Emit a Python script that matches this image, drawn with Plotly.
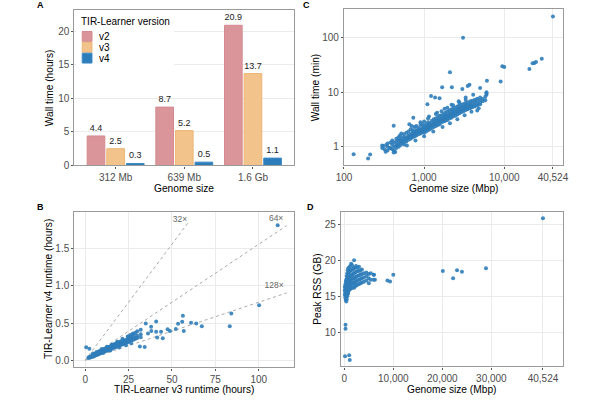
import plotly.graph_objects as go

# ---------------- Panel A data ----------------
genome_cats = ["312 Mb", "639 Mb", "1.6 Gb"]
versions = ["v2", "v3", "v4"]
wall_v2 = [4.4, 8.7, 20.9]
wall_v3 = [2.5, 5.2, 13.7]
wall_v4 = [0.3, 0.5, 1.1]
bar_colors = ["#D9959A", "#F2C38A", "#2D7DBB"]
bar_lines = ["#D48A90", "#EDB675", "#3C8AC6"]

# ---------------- Panel B data (hours) ----------------
v3_hours = [
    2, 2, 3, 3, 3, 4, 4, 4, 5, 5, 5, 5, 6, 6, 6, 6, 7, 7, 7, 7,
    8, 8, 8, 8, 8, 9, 9, 9, 9, 9, 10, 10, 10, 10, 10, 11, 11, 11, 11, 11,
    12, 12, 12, 12, 12, 13, 13, 13, 13, 13, 14, 14, 14, 14, 14, 15, 15, 15, 15, 15,
    16, 16, 16, 16, 16, 17, 17, 17, 17, 17, 18, 18, 18, 18, 18, 19, 19, 19, 19, 19,
    20, 20, 20, 20, 20, 21, 21, 21, 21, 21, 22, 22, 22, 22, 22, 23, 23, 23, 23,
    24, 24, 24, 24, 25, 25, 25, 25, 26, 26, 26, 26, 27, 27, 27, 28, 28, 28,
    29, 29, 29, 30, 30, 30, 32, 32, 32,
    4.5, 6.5, 9.5, 12.5, 15.5, 18.5, 21.5, 24.5, 27.5, 10.5, 14.5, 19.5, 23.5, 26.5,
    0.6, 2.4, 31.5, 34.3, 34.9, 36.2, 38.0, 38.1, 40.9, 40.9, 41.5, 43.7, 44.7,
    47.5, 48.8, 52.2, 53.5, 55.9, 56.3, 56.8, 61.0, 64.0, 67.2, 83.3, 84.2, 100.2, 110.9,
]
v4_hours = [
    0.03, 0.04, 0.04, 0.05, 0.035, 0.05, 0.06, 0.045, 0.06, 0.07, 0.05, 0.08, 0.07, 0.08, 0.065, 0.09, 0.08, 0.09, 0.075, 0.10,
    0.09, 0.10, 0.085, 0.11, 0.12, 0.10, 0.11, 0.095, 0.12, 0.13, 0.11, 0.12, 0.105, 0.13, 0.14, 0.12, 0.13, 0.115, 0.14, 0.155,
    0.13, 0.14, 0.125, 0.15, 0.16, 0.14, 0.15, 0.13, 0.16, 0.17, 0.15, 0.16, 0.14, 0.17, 0.18, 0.16, 0.17, 0.15, 0.18, 0.20,
    0.17, 0.18, 0.16, 0.19, 0.21, 0.18, 0.19, 0.17, 0.20, 0.22, 0.19, 0.20, 0.18, 0.21, 0.23, 0.20, 0.21, 0.19, 0.22, 0.24,
    0.21, 0.22, 0.20, 0.23, 0.25, 0.22, 0.23, 0.21, 0.24, 0.26, 0.23, 0.24, 0.22, 0.25, 0.27, 0.24, 0.25, 0.23, 0.27,
    0.25, 0.26, 0.24, 0.28, 0.26, 0.29, 0.25, 0.32, 0.28, 0.31, 0.27, 0.34, 0.29, 0.33, 0.27, 0.30, 0.35, 0.28,
    0.31, 0.37, 0.29, 0.33, 0.39, 0.30, 0.35, 0.41, 0.31,
    0.09, 0.11, 0.15, 0.18, 0.21, 0.25, 0.29, 0.32, 0.36, 0.10, 0.13, 0.17, 0.20, 0.23,
    0.173, 0.155, 0.186, 0.177, 0.496, 0.36, 0.45, 0.394, 0.52, 0.385, 0.305, 0.385, 0.296,
    0.416, 0.394, 0.42, 0.49, 0.518, 0.60, 0.394, 0.504, 0.496, 0.456, 0.456, 0.63, 0.74, 1.82,
]
fold_ratios = [32, 64, 128]
fold_x_end = [60, 116, 116]
fold_labels = ["32×", "64×", "128×"]
fold_label_x = [54.6, 110.0, 108.9]
fold_label_y = [1.89, 1.91, 1.00]

# ---------------- Panel C data (Mbp, minutes) ----------------
c_size = [
    300, 300, 320, 350, 350, 350, 380, 380, 400, 400, 400, 420, 420, 420,
    450, 450, 450, 450, 480, 480, 480, 480, 500, 500, 500, 500, 530, 530, 530, 530,
    560, 560, 560, 560, 560, 600, 600, 600, 600, 600, 640, 640, 640, 640, 640,
    680, 680, 680, 680, 680, 720, 720, 720, 720, 720, 760, 760, 760, 760, 760,
    800, 800, 800, 800, 800, 850, 850, 850, 850, 850, 900, 900, 900, 900, 900,
    950, 950, 950, 950, 950, 1000, 1000, 1000, 1000, 1000, 1000,
    1060, 1060, 1060, 1060, 1060, 1120, 1120, 1120, 1120, 1120, 1120,
    1180, 1180, 1180, 1180, 1180, 1250, 1250, 1250, 1250, 1250,
    1320, 1320, 1320, 1320, 1320, 1400, 1400, 1400, 1400, 1400, 1400,
    1480, 1480, 1480, 1480, 1480, 1560, 1560, 1560, 1560, 1560,
    1650, 1650, 1650, 1650, 1650, 1650, 1750, 1750, 1750, 1750, 1750,
    1850, 1850, 1850, 1850, 1850, 1950, 1950, 1950, 1950, 1950, 1950,
    2060, 2060, 2060, 2060, 2060, 2180, 2180, 2180, 2180, 2180,
    2300, 2300, 2300, 2300, 2300, 2300, 2450, 2450, 2450, 2450, 2450,
    2600, 2600, 2600, 2600, 2600, 2750, 2750, 2750, 2750, 2750, 2750,
    2900, 2900, 2900, 2900, 2900, 3100, 3100, 3100, 3100, 3100,
    3300, 3300, 3300, 3300, 3300, 3300, 3500, 3500, 3500, 3500, 3500,
    3750, 3750, 3750, 3750, 3750, 4000, 4000, 4000, 4000, 4300, 4300, 4300, 4300,
    4600, 4600, 4600, 4600, 4600, 5000, 5000, 5000, 5000, 5400, 5400, 5800, 5800,
    520, 700, 900, 1150, 1450, 1800, 2200, 2700, 3300, 4100,
    610, 780, 1000, 1300, 1700, 2100, 2600, 3200, 3900, 4800,
    132, 200, 212, 309, 336, 331, 373, 417, 436, 458, 417, 655, 733, 1100,
    1220, 1370, 1560, 1680, 2220, 3000, 3500, 3680, 5000, 6000, 6080, 6000, 6000,
    2100, 3060, 9020, 9460, 10000, 20600, 22600, 23800, 24900, 29400, 40524,
]
c_minutes = [
    0.95, 1.05, 0.90, 1.00, 1.15, 0.85, 0.95, 1.20, 1.10, 0.90, 1.30, 1.00, 1.20, 0.85,
    1.05, 1.25, 1.40, 0.95, 1.10, 1.30, 1.00, 1.50, 1.20, 1.05, 1.35, 1.60, 1.15, 1.30, 1.45, 1.25,
    1.30, 1.20, 1.50, 1.70, 1.10, 1.35, 1.50, 1.25, 1.80, 1.40, 1.45, 1.60, 1.35, 1.90, 1.50,
    1.50, 1.70, 1.40, 2.10, 1.60, 1.60, 1.80, 1.50, 2.00, 1.70, 1.70, 1.90, 1.55, 2.30, 1.80,
    1.75, 1.60, 2.00, 1.90, 2.40, 1.80, 2.00, 1.70, 2.20, 1.90, 1.90, 2.10, 1.75, 2.50, 2.00,
    2.00, 1.85, 2.20, 2.60, 1.95, 2.00, 2.20, 1.80, 2.40, 2.90, 2.10,
    2.10, 2.30, 1.90, 2.60, 2.20, 2.20, 2.40, 2.00, 2.80, 2.30, 3.30,
    2.30, 2.50, 2.10, 2.70, 2.40, 2.40, 2.60, 2.20, 3.00, 2.50,
    2.50, 2.80, 2.30, 3.20, 2.60, 2.60, 2.90, 2.40, 3.30, 2.70, 4.00,
    2.70, 3.00, 2.50, 3.50, 2.90, 2.90, 3.20, 2.60, 3.70, 3.00,
    3.00, 3.30, 2.80, 3.80, 3.10, 4.50, 3.10, 3.50, 2.90, 4.00, 3.30,
    3.30, 3.70, 3.00, 4.20, 3.50, 3.40, 3.80, 3.10, 4.40, 3.60, 5.20,
    3.60, 4.00, 3.30, 4.60, 3.80, 3.70, 4.20, 3.40, 4.80, 4.00,
    3.90, 4.40, 3.60, 5.00, 4.10, 5.80, 4.10, 4.60, 3.70, 5.20, 4.30,
    4.30, 4.80, 3.90, 5.50, 4.50, 4.50, 5.00, 4.10, 5.70, 4.70, 6.50,
    4.60, 5.20, 4.30, 5.90, 4.90, 4.80, 5.40, 4.50, 6.10, 5.10,
    5.00, 5.60, 4.70, 6.30, 5.30, 7.20, 5.20, 5.80, 4.90, 6.50, 5.50,
    5.40, 6.00, 5.10, 6.80, 5.70, 5.60, 6.30, 5.30, 7.00, 5.90, 6.60, 5.50, 7.30,
    6.10, 6.90, 5.80, 7.60, 4.60, 6.40, 7.20, 6.00, 8.00, 6.80, 7.50, 7.10, 8.30,
    1.75, 2.40, 2.80, 3.60, 4.20, 5.00, 5.90, 6.80, 8.00, 9.00,
    1.05, 1.30, 1.55, 1.90, 2.30, 2.70, 3.20, 3.80, 4.40, 5.10,
    0.73, 0.61, 0.72, 1.03, 1.08, 0.81, 0.95, 0.78, 0.80, 1.10, 2.43, 2.60, 3.40, 6.00,
    8.50, 8.00, 7.80, 12.3, 12.3, 11.5, 13.0, 13.7, 12.0, 10.0, 16.2, 9.5, 9.0,
    23.3, 100.0, 15.8, 30.0, 29.0, 26.8, 33.9, 34.3, 35.8, 41.1, 245.0,
]

# ---------------- Panel D data (Mbp, GB) ----------------
d_size = [
    100, 100, 100, 200, 200, 200, 200, 300, 300, 300, 300, 300,
    400, 400, 400, 400, 400, 400, 500, 500, 500, 500, 500, 500,
    600, 600, 600, 600, 600, 600, 700, 700, 700, 700, 700, 700,
    800, 800, 800, 800, 800, 800, 900, 900, 900, 900, 900,
    1000, 1000, 1000, 1000, 1000, 1000, 1200, 1200, 1200, 1200, 1200, 1200,
    1400, 1400, 1400, 1400, 1400, 1400, 1600, 1600, 1600, 1600, 1600, 1600,
    1800, 1800, 1800, 1800, 1800, 2000, 2000, 2000, 2000, 2000, 2000,
    2200, 2200, 2200, 2200, 2200, 2400, 2400, 2400, 2400, 2400,
    2700, 2700, 2700, 2700, 2700, 3000, 3000, 3000, 3000, 3000,
    3300, 3300, 3300, 3300, 3600, 3600, 3600, 3600, 4000, 4000, 4000,
    4500, 4500, 4500, 5000, 5000, 5000, 5400, 5400, 6000, 6000,
    150, 1000, 1120, 260, 260, 6250, 6050, 8800, 9340, 10000,
    20100, 22200, 23000, 24000, 28900, 40524,
]
d_rss = [
    15.2, 15.8, 16.3, 14.8, 15.5, 16.0, 16.6, 14.5, 15.2, 15.8, 16.4, 17.0,
    14.3, 15.0, 15.6, 16.2, 16.8, 17.3, 14.6, 15.4, 16.0, 16.6, 17.2, 17.8,
    15.0, 15.7, 16.3, 16.9, 17.5, 18.2, 15.3, 16.0, 16.6, 17.2, 17.8, 18.6,
    15.5, 16.2, 16.8, 17.4, 18.0, 18.9, 15.8, 16.4, 17.0, 17.6, 18.3,
    15.9, 16.5, 17.1, 17.7, 18.4, 19.0, 16.0, 16.6, 17.2, 17.8, 18.5, 19.2,
    16.1, 16.7, 17.3, 17.9, 18.6, 19.5, 16.2, 16.8, 17.4, 18.0, 18.7, 19.3,
    16.3, 16.9, 17.5, 18.1, 18.8, 16.2, 16.8, 17.5, 18.2, 18.9, 20.0,
    16.4, 17.0, 17.6, 18.3, 19.0, 16.5, 17.1, 17.7, 18.4, 19.2,
    16.6, 17.2, 17.8, 18.5, 19.0, 16.7, 17.3, 17.9, 18.5, 19.1,
    16.8, 17.4, 18.0, 18.6, 16.9, 17.5, 18.1, 18.7, 17.0, 17.6, 18.2,
    17.2, 17.8, 18.3, 16.8, 17.5, 18.1, 17.3, 18.2, 18.0, 17.3,
    6.7, 6.86, 6.2, 11.05, 10.5, 17.3, 18.0, 17.2, 17.05, 18.0,
    18.5, 17.5, 18.6, 18.4, 18.9, 25.8,
]

# ---------------- styling ----------------
FONT = "Liberation Sans, Arial, sans-serif"
TICK_FONT = dict(family=FONT, size=10, color="#4D4D4D")
TITLE_FONT = dict(family=FONT, size=10.2, color="#000000")
GRID = "#EBEBEB"
FRAME = "#9A9A9A"
PT_COLOR = "#2F7DBA"

W, H = 600, 400


def px_x(v):
    return v / W


def px_y(v):
    return 1 - v / H


def axis_common(**kw):
    d = dict(
        showline=True, mirror=True, linecolor=FRAME, linewidth=1.3,
        ticks="outside", ticklen=2, tickwidth=1, tickcolor="#555555",
        tickfont=TICK_FONT, gridcolor=GRID, gridwidth=1, zeroline=False,
        showgrid=True,
    )
    d.update(kw)
    return d


fig = go.Figure()

# Panel A bars
for name, vals, col, lc in zip(versions, [wall_v2, wall_v3, wall_v4], bar_colors, bar_lines):
    fig.add_trace(go.Bar(
        x=genome_cats, y=vals, name=name, xaxis="x", yaxis="y",
        marker=dict(color=col, line=dict(color=lc, width=1)),
        text=[f"{v:.1f}" for v in vals], textposition="outside",
        textfont=dict(family=FONT, size=9, color="#222222"),
        cliponaxis=False, showlegend=False,
    ))

# Panel B fold lines
for r, xe in zip(fold_ratios, fold_x_end):
    fig.add_trace(go.Scatter(
        x=[0, xe], y=[0, xe / r], mode="lines", xaxis="x2", yaxis="y2",
        line=dict(color="#A8A8A8", width=1, dash="dot"), showlegend=False,
        hoverinfo="skip",
    ))
fig.add_trace(go.Scatter(
    x=v3_hours, y=v4_hours, mode="markers", xaxis="x2", yaxis="y2",
    marker=dict(color=PT_COLOR, size=4, opacity=0.9), showlegend=False,
))
fig.add_trace(go.Scatter(
    x=fold_label_x, y=fold_label_y, text=fold_labels, mode="text",
    xaxis="x2", yaxis="y2", textfont=dict(family=FONT, size=8.5, color="#666666"),
    showlegend=False, cliponaxis=False,
))

# Panel C
fig.add_trace(go.Scatter(
    x=c_size, y=c_minutes, mode="markers", xaxis="x3", yaxis="y3",
    marker=dict(color=PT_COLOR, size=4, opacity=0.9), showlegend=False,
))

# Panel D
fig.add_trace(go.Scatter(
    x=d_size, y=d_rss, mode="markers", xaxis="x4", yaxis="y4",
    marker=dict(color=PT_COLOR, size=4, opacity=0.9), showlegend=False,
))

layout = dict(
    width=W, height=H, margin=dict(l=0, r=0, t=0, b=0),
    paper_bgcolor="white", plot_bgcolor="white",
    font=dict(family=FONT),
    barmode="group", bargap=0.143, bargroupgap=0.1,
    # A
    xaxis=axis_common(domain=[px_x(68), px_x(293)], anchor="y", type="category",
                      range=[-0.6, 2.6], showgrid=False),
    yaxis=axis_common(domain=[px_y(168), px_y(10)], anchor="x", range=[0, 23.2],
                      tickvals=[0, 5, 10, 15, 20]),
    # B
    xaxis2=axis_common(domain=[px_x(68), px_x(293)], anchor="y2", range=[-6.2, 120.4],
                       tickvals=[0, 25, 50, 75, 100]),
    yaxis2=axis_common(domain=[px_y(373), px_y(215)], anchor="x2", range=[-0.097, 2.0],
                       tickvals=[0, 0.5, 1.0, 1.5], ticktext=["0.0", "0.5", "1.0", "1.5"]),
    # C
    xaxis3=axis_common(domain=[px_x(344), px_x(568)], anchor="y3", type="log",
                       range=[2, 4.73], tickvals=[100, 1000, 10000, 40524],
                       ticktext=["100", "1,000", "10,000", "40,524"]),
    yaxis3=axis_common(domain=[px_y(168), px_y(9)], anchor="x3", type="log",
                       range=[-0.344, 2.53], tickvals=[1, 10, 100],
                       ticktext=["1", "10", "100"]),
    # D
    xaxis4=axis_common(domain=[px_x(341), px_x(568)], anchor="y4", range=[-660, 44560],
                       tickvals=[0, 10000, 20000, 30000, 40524],
                       ticktext=["0", "10,000", "20,000", "30,000", "40,524"]),
    yaxis4=axis_common(domain=[px_y(372), px_y(215)], anchor="x4", range=[5.3, 26.7],
                       tickvals=[10, 15, 20, 25]),
)
fig.update_layout(**layout)

# Legend for panel A (drawn in paper space)
shapes = [dict(type="rect", xref="paper", yref="paper", x0=px_x(70), x1=px_x(170),
               y0=px_y(68), y1=px_y(12), fillcolor="white", line=dict(width=0), layer="above")]
key_tops = [32, 43, 54]
for name, col, lc, top in zip(versions, bar_colors, bar_lines, key_tops):
    shapes.append(dict(type="rect", xref="paper", yref="paper", x0=px_x(76), x1=px_x(86),
                       y0=px_y(top + 10), y1=px_y(top), fillcolor=col,
                       line=dict(color=lc, width=1), layer="above"))
annotations = [dict(text="TIR-Learner version", xref="paper", yref="paper", x=px_x(73), y=px_y(22),
                    xanchor="left", yanchor="middle", showarrow=False,
                    font=dict(family=FONT, size=10, color="#000000"))]
for name, top in zip(versions, key_tops):
    annotations.append(dict(text=name, xref="paper", yref="paper", x=px_x(91), y=px_y(top + 5),
                            xanchor="left", yanchor="middle", showarrow=False,
                            font=dict(family=FONT, size=10, color="#000000")))

# axis titles
titles = [
    ("Wall time (hours)", 42.5, 89, -90),
    ("Genome size", 180.5, 191, 0),
    ("TIR-Learner v4 runtime (hours)", 41.5, 294, -90),
    ("TIR-Learner v3 runtime (hours)", 180.5, 395.5, 0),
    ("Wall time (min)", 315, 89, -90),
    ("Genome size (Mbp)", 456, 191, 0),
    ("Peak RSS (GB)", 316, 293.5, -90),
    ("Genome size (Mbp)", 454.5, 395.5, 0),
]
for t, x, y, ang in titles:
    annotations.append(dict(text=t, xref="paper", yref="paper", x=px_x(x), y=px_y(y),
                            xanchor="center", yanchor="middle", showarrow=False,
                            textangle=ang, font=TITLE_FONT, borderpad=0))
# panel letters
for letter, x, y in [("A", 33, 5.5), ("B", 33.5, 210.5), ("C", 305.5, 5.5), ("D", 309.5, 210.5)]:
    annotations.append(dict(text=f"<b>{letter}</b>", xref="paper", yref="paper", x=px_x(x), y=px_y(y),
                            xanchor="center", yanchor="middle", showarrow=False,
                            font=dict(family=FONT, size=9, color="#000000")))

fig.update_layout(shapes=shapes, annotations=annotations)
fig.write_html("out.html")
